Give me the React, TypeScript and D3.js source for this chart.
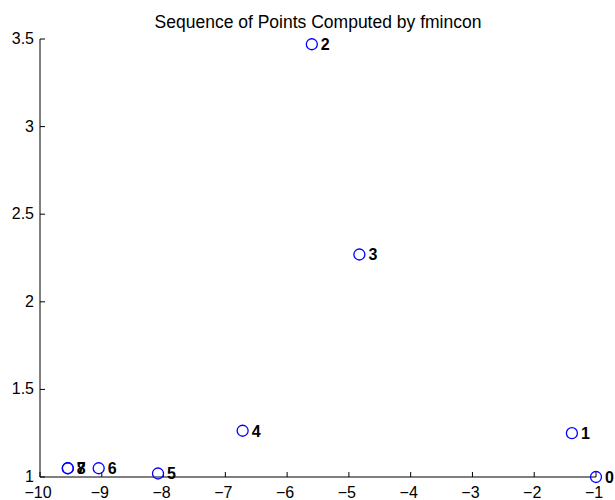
import React from "react";
import * as d3 from "d3";

// iterates from fmincon
const xVals = [-1.0, -1.39, -5.6, -4.83, -6.72, -8.09, -9.05, -9.55, -9.55];
const yVals = [1.0, 1.25, 3.47, 2.27, 1.264, 1.02, 1.05, 1.05, 1.05];
const pointLabels = ["0", "1", "2", "3", "4", "5", "6", "7", "8"];
const xTicks = [-10, -9, -8, -7, -6, -5, -4, -3, -2, -1];
const yTicks = [1, 1.5, 2, 2.5, 3, 3.5];

const W = 615;
const H = 500;
const margin = { top: 39, right: 19, bottom: 23, left: 40 };

const fmt = (v: number) => String(v).replace("-", "\u2212");

const App: React.FC = () => {
  const x = d3.scaleLinear().domain([-10, -1]).range([margin.left, W - margin.right]);
  const y = d3.scaleLinear().domain([1, 3.5]).range([H - margin.bottom, margin.top]);
  const font = "'Liberation Sans', Arial, sans-serif";
  const x0 = x(-10);
  const y0 = y(1);

  return (
    <svg
      width={W}
      height={H}
      style={{ position: "absolute", left: 0, top: 0, background: "#fff" }}
      fontFamily={font}
    >
      <text x={(x(-10) + x(-1)) / 2} y={28} textAnchor="middle" fontSize={17.5}>
        Sequence of Points Computed by fmincon
      </text>

      {/* axes */}
      <line x1={x0} x2={x(-1)} y1={y0} y2={y0} stroke="#000" />
      <line x1={x0} x2={x0} y1={y0} y2={y(3.5)} stroke="#000" />
      {xTicks.map((t) => (
        <g key={"x" + t}>
          <line x1={x(t)} x2={x(t)} y1={y0} y2={y0 - 5} stroke="#000" />
          <text x={x(t) - 2} y={y0 + 21} textAnchor="middle" fontSize={16}>
            {fmt(t)}
          </text>
        </g>
      ))}
      {yTicks.map((t) => (
        <g key={"y" + t}>
          <line x1={x0} x2={x0 + 5} y1={y(t)} y2={y(t)} stroke="#000" />
          <text x={x0 - 6} y={y(t) + 5} textAnchor="end" fontSize={16}>
            {fmt(t)}
          </text>
        </g>
      ))}

      {/* points */}
      {xVals.map((v, i) => (
        <circle key={"c" + i} cx={x(v)} cy={y(yVals[i])} r={5.5} fill="none" stroke="#0000ff" strokeWidth={1.3} />
      ))}
      {xVals.map((v, i) => (
        <text
          key={"t" + i}
          x={x(v) + 9}
          y={y(yVals[i]) + 6}
          fontSize={16}
          fontWeight="bold"
        >
          {pointLabels[i]}
        </text>
      ))}
    </svg>
  );
};

export default App;
